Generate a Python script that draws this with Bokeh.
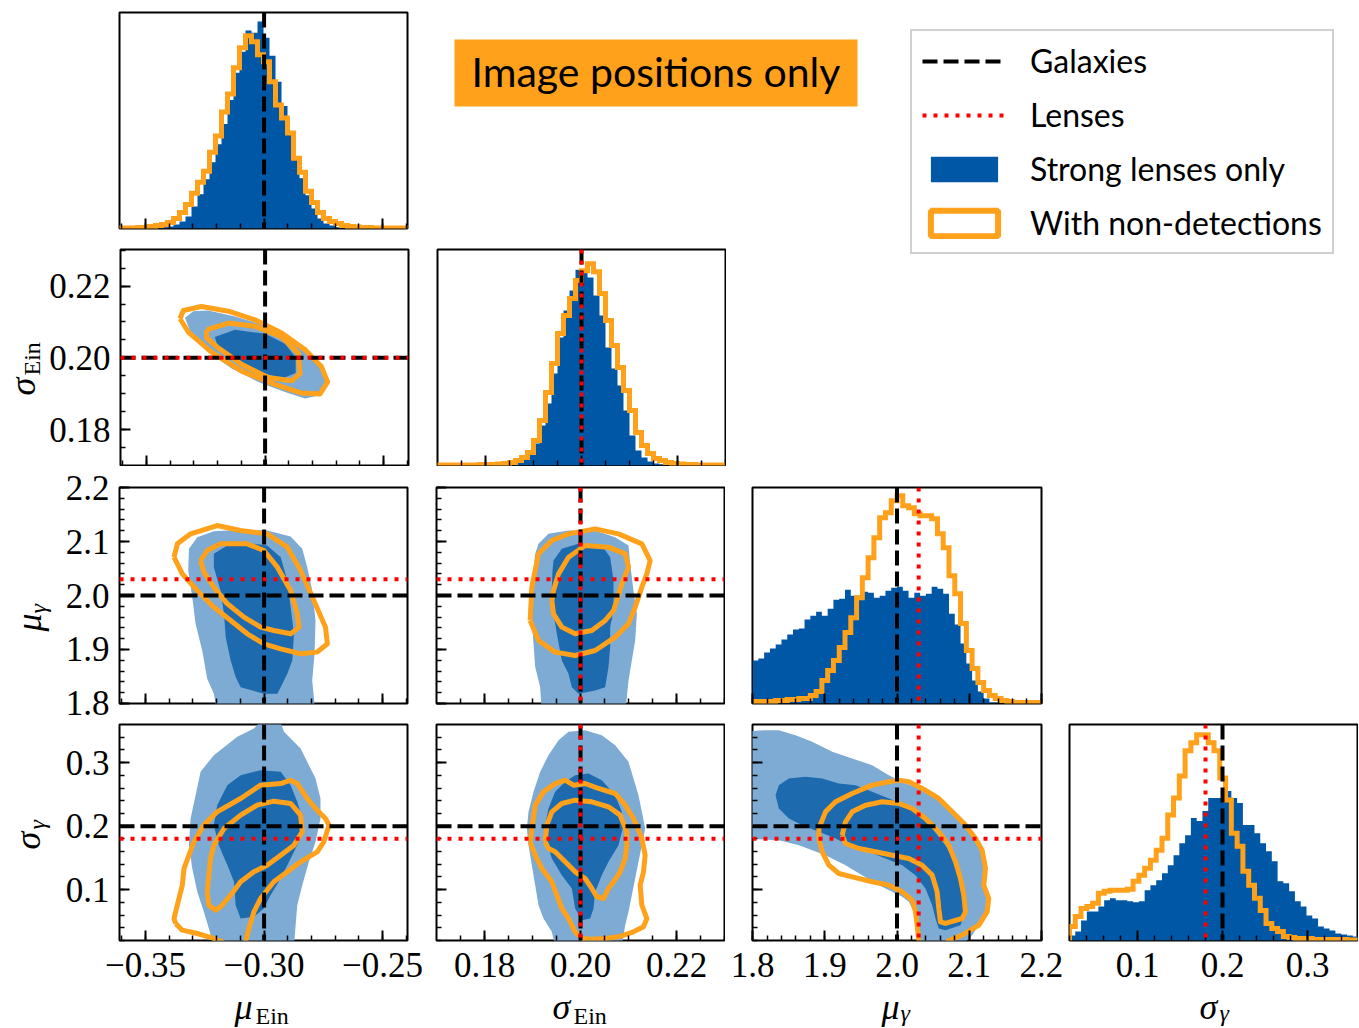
import numpy as np
from bokeh.plotting import figure
from bokeh.models import (Range1d, LinearAxis, SingleIntervalTicker, CustomJSTickFormatter,
                          Span, Label, BoxAnnotation, Legend, LegendItem)
from bokeh.layouts import row, column
from bokeh.embed import file_html
from bokeh.resources import INLINE

# ---------------- data ----------------
param_symbols = [("μ", "Ein"), ("σ", "Ein"), ("μ", "γ"), ("σ", "γ")]
galaxies_truth = [-0.30, 0.20, 2.00, 0.20]
lenses_truth = [None, 0.20, 2.03, 0.18]
x_ranges = [(-0.361, -0.2395), (0.17, 0.23), (1.7999, 2.2001), (0.02, 0.3588)]
y_ranges = [(-0.361, -0.2395), (0.17, 0.2302), (1.7999, 2.2001), (0.02, 0.36)]
tick_interval = [0.05, 0.02, 0.1, 0.1]
minor_ticks = [5, 4, 5, 5]
tick_decimals = [2, 2, 1, 1]

hist_ranges = [(-0.361, -0.2395), (0.17, 0.23), (1.8, 2.2), (0.02, 0.36)]
hist_bins = [48, 48, 50, 50]
hist_headroom = [1.12, 1.07, 1.04, 1.05]

mu_ein_strong = [0, 0, 0, 0, 0, 0, 1, 1, 2, 4, 7, 12, 22, 34, 49, 66, 84, 104, 128, 155, 176, 197,
                 195, 206, 190, 172, 146, 122, 95, 70, 50, 33, 20, 10, 5, 3, 1, 0, 0, 0, 0, 0, 0,
                 0, 0, 0, 0, 0]
mu_ein_nondet = [0.5, 0.5, 0.5, 1, 1, 2, 3, 4, 6, 10, 16, 24, 35, 46, 57, 76, 92, 116, 134, 160,
                 180, 192, 186, 173, 166, 146, 123, 110, 95, 70, 56, 37, 26, 16, 10, 7, 5, 3, 2,
                 1.5, 1, 1, 0.5, 0.5, 0.5, 0.5, 0.5, 0.5]
sig_ein_strong = [0, 0, 0, 0, 0, 0, 0, 0, 0, 0.5, 1, 1, 2, 3, 6, 12, 22, 40, 62, 92, 128, 155,
                  175, 196, 195, 188, 170, 150, 118, 97, 80, 55, 30, 15, 8, 4, 2, 1, 0, 0, 0, 0,
                  0, 0, 0, 0, 0, 0]
sig_ein_nondet = [0.5, 0.5, 0.5, 0.5, 0.5, 0.5, 0.5, 1, 1, 1, 1.5, 2, 3, 5, 8, 13, 25, 45, 73,
                  102, 132, 150, 167, 185, 195, 202, 194, 172, 145, 120, 98, 75, 55, 33, 20, 12,
                  7, 5, 3, 2, 1.5, 1, 1, 0.5, 0.5, 0.5, 0.5, 0.5]
mu_gam_strong = [43, 45, 51, 55, 59, 64, 69, 74, 75, 84, 88, 92, 88, 95, 104, 105, 114, 108, 108,
                 112, 111, 106, 108, 113, 116, 117, 113, 106, 111, 108, 110, 117, 115, 110, 90,
                 79, 60, 40, 23, 12, 5, 1, 0, 0, 0, 0, 0, 0, 0, 0]
mu_gam_nondet = [2, 2, 2, 2, 3, 3, 4, 4, 5, 5, 8, 12, 23, 33, 43, 56, 71, 86, 106, 126, 146, 166,
                 186, 191, 203, 208, 198, 196, 190, 188, 188, 185, 170, 156, 128, 110, 80, 53, 35,
                 21, 13, 8, 5, 3, 2, 1, 1, 1, 1, 1]
sig_gam_strong = [5, 9, 20, 29, 29, 34, 40, 42, 40, 40, 39, 38, 39, 50, 55, 60, 67, 75, 85, 97,
                  105, 122, 119, 129, 142, 142, 142, 149, 142, 137, 115, 115, 107, 97, 89, 79, 59,
                  57, 49, 39, 34, 25, 22, 14, 12, 10, 7, 6, 5, 4]
sig_gam_nondet = [14, 24, 32, 34, 37, 47, 49, 50, 50, 50, 51, 59, 65, 72, 80, 90, 102, 125, 142,
                  164, 189, 197, 205, 205, 197, 189, 162, 140, 107, 94, 69, 55, 42, 30, 17, 12, 9,
                  4, 3, 2, 2, 2, 1, 1, 1, 1, 1, 1, 0.5, 0.5]
hist_strong = [mu_ein_strong, sig_ein_strong, mu_gam_strong, sig_gam_strong]
hist_nondet = [mu_ein_nondet, sig_ein_nondet, mu_gam_nondet, sig_gam_nondet]

# 2D contours (x, y) -- strong lenses (filled: 2 levels), with non-detections (lines: 2 levels)
mein_sein_outer = [(-0.3338, 0.2112), (-0.3303, 0.2130), (-0.3240, 0.2132), (-0.3127, 0.2115), (-0.3000, 0.2090), (-0.2902, 0.2053), (-0.2818, 0.2012), (-0.2762, 0.1970), (-0.2741, 0.1933), (-0.2769, 0.1896), (-0.2832, 0.1887), (-0.2916, 0.1905), (-0.3029, 0.1933), (-0.3141, 0.1970), (-0.3240, 0.2016), (-0.3310, 0.2062)]
mein_sein_inner = [(-0.3212, 0.2058), (-0.3127, 0.2078), (-0.3000, 0.2067), (-0.2916, 0.2039), (-0.2871, 0.2002), (-0.2871, 0.1958), (-0.2930, 0.1942), (-0.3029, 0.1963), (-0.3127, 0.1998), (-0.3198, 0.2028)]
mein_sein_nd_outer = [(-0.3359, 0.2109), (-0.3345, 0.2132), (-0.3268, 0.2143), (-0.3155, 0.2130), (-0.3043, 0.2106), (-0.2930, 0.2069), (-0.2832, 0.2023), (-0.2762, 0.1975), (-0.2736, 0.1933), (-0.2769, 0.1899), (-0.2846, 0.1902), (-0.2959, 0.1926), (-0.3099, 0.1963), (-0.3226, 0.2016), (-0.3324, 0.2072)]
mein_sein_nd_inner = [(-0.3247, 0.2078), (-0.3155, 0.2097), (-0.3043, 0.2088), (-0.2930, 0.2058), (-0.2860, 0.2013), (-0.2853, 0.1956), (-0.2888, 0.1936), (-0.2987, 0.1945), (-0.3099, 0.1982), (-0.3198, 0.2028), (-0.3247, 0.2056)]

mein_mgam_outer = [(-0.3317, 2.0864), (-0.3282, 2.1080), (-0.3212, 2.1191), (-0.3099, 2.1216), (-0.2987, 2.1204), (-0.2888, 2.1093), (-0.2839, 2.0864), (-0.2818, 2.0525), (-0.2797, 2.0093), (-0.2783, 1.9537), (-0.2787, 1.8920), (-0.2797, 1.8426), (-0.2783, 1.78), (-0.3198, 1.78), (-0.3212, 1.8179), (-0.3240, 1.8457), (-0.3261, 1.8981), (-0.3289, 1.9475), (-0.3303, 1.9969), (-0.3320, 2.0463)]
mein_mgam_inner = [(-0.3212, 2.0772), (-0.3155, 2.0926), (-0.3043, 2.0957), (-0.2987, 2.0926), (-0.2930, 2.0710), (-0.2902, 2.0278), (-0.2888, 1.9784), (-0.2874, 1.9290), (-0.2881, 1.8796), (-0.2902, 1.8549), (-0.2930, 1.8302), (-0.2944, 1.8179), (-0.3001, 1.8179), (-0.3099, 1.8302), (-0.3120, 1.8488), (-0.3141, 1.8796), (-0.3162, 1.9228), (-0.3169, 1.9660), (-0.3184, 2.0093), (-0.3212, 2.0525)]
mein_mgam_nd_outer = [(-0.3380, 2.0710), (-0.3366, 2.0957), (-0.3310, 2.1142), (-0.3198, 2.1296), (-0.3099, 2.1204), (-0.2987, 2.1142), (-0.2902, 2.0895), (-0.2846, 2.0463), (-0.2790, 1.9907), (-0.2741, 1.9414), (-0.2733, 1.9105), (-0.2776, 1.8951), (-0.2846, 1.8920), (-0.2930, 1.9012), (-0.3001, 1.9105), (-0.3071, 1.9290), (-0.3141, 1.9537), (-0.3212, 1.9784), (-0.3282, 2.0093), (-0.3345, 2.0401)]
mein_mgam_nd_inner = [(-0.3268, 2.0648), (-0.3240, 2.0833), (-0.3184, 2.0957), (-0.3071, 2.0957), (-0.3001, 2.0833), (-0.2944, 2.0525), (-0.2888, 2.0093), (-0.2860, 1.9660), (-0.2853, 1.9414), (-0.2888, 1.9290), (-0.2959, 1.9352), (-0.3015, 1.9414), (-0.3085, 1.9599), (-0.3155, 1.9846), (-0.3212, 2.0154), (-0.3254, 2.0432)]

sein_mgam_outer = [(0.19125, 2.0957), (0.19333, 2.1142), (0.19750, 2.1204), (0.20306, 2.1204), (0.20722, 2.1080), (0.21000, 2.0926), (0.21035, 2.0586), (0.21104, 2.0093), (0.21174, 1.9660), (0.21139, 1.9167), (0.21069, 1.8796), (0.21000, 1.8426), (0.20931, 1.78), (0.19194, 1.78), (0.19160, 1.8302), (0.19056, 1.8673), (0.19021, 1.9105), (0.18986, 1.9537), (0.19021, 2.0031), (0.19021, 2.0463), (0.19056, 2.0772)]
sein_mgam_inner = [(0.19438, 2.0648), (0.19611, 2.0864), (0.19958, 2.0957), (0.20444, 2.0926), (0.20618, 2.0710), (0.20688, 2.0278), (0.20688, 1.9722), (0.20618, 1.9414), (0.20618, 1.9043), (0.20583, 1.8673), (0.20514, 1.8302), (0.20306, 1.8241), (0.19958, 1.8179), (0.19819, 1.8302), (0.19750, 1.8549), (0.19611, 1.8796), (0.19507, 1.9290), (0.19438, 1.9660), (0.19403, 2.0154), (0.19417, 2.0463)]
sein_mgam_nd_outer = [(0.18951, 1.9537), (0.18986, 2.0154), (0.19125, 2.0772), (0.19403, 2.1019), (0.19750, 2.1142), (0.20306, 2.1235), (0.20792, 2.1142), (0.21278, 2.0957), (0.21451, 2.0648), (0.21382, 2.0401), (0.21278, 2.0154), (0.21139, 1.9784), (0.21000, 1.9475), (0.20722, 1.9228), (0.20306, 1.8981), (0.19889, 1.8889), (0.19472, 1.8951), (0.19125, 1.9167)]
sein_mgam_nd_inner = [(0.19403, 1.9907), (0.19438, 2.0093), (0.19542, 2.0401), (0.19750, 2.0710), (0.20097, 2.0926), (0.20583, 2.0895), (0.20931, 2.0772), (0.21000, 2.0525), (0.20861, 2.0216), (0.20757, 1.9907), (0.20688, 1.9722), (0.20514, 1.9537), (0.20236, 1.9352), (0.19889, 1.9290), (0.19611, 1.9414), (0.19438, 1.9660)]

mein_sgam_outer = [(-0.2959, 0.37), (-0.3001, 0.37), (-0.3043, 0.3537), (-0.3113, 0.3406), (-0.3212, 0.3117), (-0.3268, 0.2855), (-0.3289, 0.2488), (-0.3310, 0.2120), (-0.3317, 0.1701), (-0.3303, 0.1333), (-0.3282, 0.0966), (-0.3254, 0.0651), (-0.3233, 0.0389), (-0.3212, 0.01), (-0.2874, 0.01), (-0.2867, 0.0442), (-0.2860, 0.0756), (-0.2839, 0.1071), (-0.2811, 0.1438), (-0.2783, 0.1753), (-0.2762, 0.2120), (-0.2762, 0.2435), (-0.2783, 0.2750), (-0.2818, 0.3012), (-0.2846, 0.3222), (-0.2888, 0.3380), (-0.2916, 0.3485), (-0.2937, 0.37)]
mein_sgam_inner = [(-0.3198, 0.2330), (-0.3155, 0.2645), (-0.3099, 0.2803), (-0.3015, 0.2881), (-0.2930, 0.2855), (-0.2888, 0.2645), (-0.2860, 0.2383), (-0.2839, 0.2120), (-0.2846, 0.1806), (-0.2874, 0.1596), (-0.2902, 0.1386), (-0.2930, 0.1176), (-0.2973, 0.0914), (-0.3001, 0.0704), (-0.3043, 0.0573), (-0.3099, 0.0546), (-0.3120, 0.0756), (-0.3127, 0.1124), (-0.3155, 0.1386), (-0.3191, 0.1701), (-0.3212, 0.2016)]
mein_sgam_nd_outer = [(-0.3373, 0.0468), (-0.3380, 0.0546), (-0.3366, 0.0756), (-0.3345, 0.1071), (-0.3338, 0.1333), (-0.3317, 0.1543), (-0.3296, 0.1753), (-0.3254, 0.2016), (-0.3198, 0.2225), (-0.3099, 0.2435), (-0.3015, 0.2645), (-0.2930, 0.2671), (-0.2888, 0.2724), (-0.2860, 0.2671), (-0.2818, 0.2435), (-0.2783, 0.2278), (-0.2741, 0.2120), (-0.2726, 0.2016), (-0.2748, 0.1753), (-0.2776, 0.1596), (-0.2846, 0.1438), (-0.2902, 0.1281), (-0.2959, 0.1124), (-0.3015, 0.0861), (-0.3043, 0.0651), (-0.3064, 0.0389), (-0.3078, 0.0179), (-0.3099, 0.0074), (-0.3155, 0.0074), (-0.3177, 0.0179), (-0.3212, 0.0232), (-0.3282, 0.0310), (-0.3345, 0.0363)]
mein_sgam_nd_inner = [(-0.3240, 0.0966), (-0.3233, 0.1229), (-0.3226, 0.1491), (-0.3212, 0.1701), (-0.3169, 0.1963), (-0.3099, 0.2173), (-0.3029, 0.2330), (-0.2959, 0.2393), (-0.2888, 0.2357), (-0.2846, 0.2173), (-0.2839, 0.1911), (-0.2874, 0.1701), (-0.2930, 0.1543), (-0.2987, 0.1386), (-0.3043, 0.1281), (-0.3099, 0.1124), (-0.3141, 0.0914), (-0.3184, 0.0730), (-0.3205, 0.0678), (-0.3233, 0.0756)]

sein_sgam_outer = [(0.19750, 0.3485), (0.20097, 0.3511), (0.20444, 0.3432), (0.20722, 0.3275), (0.21000, 0.3012), (0.21104, 0.2750), (0.21208, 0.2488), (0.21278, 0.2225), (0.21347, 0.1963), (0.21278, 0.1701), (0.21208, 0.1438), (0.21139, 0.1176), (0.21069, 0.0914), (0.21000, 0.0651), (0.20931, 0.0442), (0.20861, 0.01), (0.19472, 0.01), (0.19403, 0.0337), (0.19229, 0.0546), (0.19125, 0.0756), (0.19056, 0.1071), (0.18986, 0.1386), (0.18917, 0.1701), (0.18882, 0.1963), (0.18917, 0.2225), (0.19021, 0.2540), (0.19160, 0.2855), (0.19333, 0.3117), (0.19542, 0.3353)]
sein_sgam_inner = [(0.19472, 0.2540), (0.19681, 0.2698), (0.19889, 0.2803), (0.20167, 0.2829), (0.20444, 0.2724), (0.20722, 0.2488), (0.20861, 0.2225), (0.20896, 0.2016), (0.20792, 0.1701), (0.20583, 0.1438), (0.20444, 0.1229), (0.20306, 0.0966), (0.20271, 0.0704), (0.20201, 0.0546), (0.20028, 0.0520), (0.19889, 0.0704), (0.19819, 0.1019), (0.19611, 0.1229), (0.19403, 0.1491), (0.19299, 0.1753), (0.19264, 0.2016), (0.19333, 0.2278)]
sein_sgam_nd_outer = [(0.18951, 0.1753), (0.18986, 0.1963), (0.19056, 0.2330), (0.19229, 0.2540), (0.19472, 0.2671), (0.19681, 0.2724), (0.19854, 0.2645), (0.20097, 0.2671), (0.20375, 0.2593), (0.20722, 0.2514), (0.20931, 0.2330), (0.21104, 0.2120), (0.21278, 0.1806), (0.21347, 0.1543), (0.21313, 0.1281), (0.21243, 0.1071), (0.21278, 0.0756), (0.21382, 0.0546), (0.21313, 0.0415), (0.21104, 0.0337), (0.20792, 0.0258), (0.20514, 0.0232), (0.20236, 0.0221), (0.20028, 0.0232), (0.19889, 0.0337), (0.19750, 0.0546), (0.19611, 0.0704), (0.19507, 0.0914), (0.19403, 0.1124), (0.19194, 0.1333), (0.19056, 0.1543)]
sein_sgam_nd_inner = [(0.19264, 0.1753), (0.19299, 0.2016), (0.19403, 0.2225), (0.19611, 0.2357), (0.19889, 0.2409), (0.20236, 0.2383), (0.20583, 0.2304), (0.20826, 0.2173), (0.20965, 0.1911), (0.20965, 0.1701), (0.20931, 0.1491), (0.20826, 0.1281), (0.20688, 0.1124), (0.20583, 0.1019), (0.20479, 0.0861), (0.20340, 0.0888), (0.20236, 0.1019), (0.20097, 0.1176), (0.19889, 0.1281), (0.19681, 0.1438), (0.19472, 0.1596), (0.19333, 0.1648)]

mgam_sgam_outer = [(1.78, 0.3485), (1.8180, 0.3511), (1.8364, 0.3511), (1.8595, 0.3432), (1.8826, 0.3327), (1.9103, 0.3170), (1.9379, 0.3065), (1.9656, 0.2960), (1.9887, 0.2803), (2.0118, 0.2671), (2.0348, 0.2593), (2.0579, 0.2435), (2.0764, 0.2278), (2.0948, 0.2068), (2.1087, 0.1858), (2.1179, 0.1596), (2.1225, 0.1333), (2.1202, 0.1071), (2.1271, 0.0861), (2.1248, 0.0651), (2.1133, 0.0442), (2.1040, 0.0284), (2.0902, 0.0127), (2.0348, 0.0127), (2.0302, 0.0337), (2.0256, 0.0494), (2.0233, 0.0651), (2.0164, 0.0809), (2.0072, 0.0888), (1.9933, 0.0966), (1.9749, 0.1071), (1.9518, 0.1229), (1.9287, 0.1386), (1.9010, 0.1543), (1.8826, 0.1622), (1.8641, 0.1701), (1.8364, 0.1779), (1.78, 0.1806)]
mgam_sgam_inner = [(1.8318, 0.2488), (1.8364, 0.2645), (1.8503, 0.2750), (1.8734, 0.2776), (1.8964, 0.2750), (1.9195, 0.2671), (1.9426, 0.2645), (1.9656, 0.2540), (1.9887, 0.2435), (2.0118, 0.2330), (2.0302, 0.2173), (2.0487, 0.1963), (2.0671, 0.1701), (2.0810, 0.1438), (2.0902, 0.1176), (2.0948, 0.0914), (2.0948, 0.0651), (2.0879, 0.0442), (2.0671, 0.0363), (2.0579, 0.0389), (2.0533, 0.0546), (2.0487, 0.0756), (2.0394, 0.1019), (2.0256, 0.1229), (2.0072, 0.1386), (1.9841, 0.1491), (1.9610, 0.1596), (1.9379, 0.1674), (1.9149, 0.1806), (1.8918, 0.1911), (1.8687, 0.2016), (1.8503, 0.2120), (1.8364, 0.2278)]
mgam_sgam_nd_outer = [(1.8918, 0.1806), (1.8918, 0.1963), (1.9010, 0.2225), (1.9149, 0.2383), (1.9379, 0.2514), (1.9656, 0.2645), (1.9887, 0.2698), (2.0025, 0.2724), (2.0164, 0.2698), (2.0348, 0.2593), (2.0579, 0.2435), (2.0764, 0.2225), (2.0948, 0.2016), (2.1087, 0.1806), (2.1179, 0.1622), (2.1225, 0.1333), (2.1202, 0.1071), (2.1271, 0.0861), (2.1248, 0.0651), (2.1133, 0.0442), (2.0902, 0.0284), (2.0717, 0.0200), (2.0625, 0.0074), (2.0325, 0.0074), (2.0302, 0.0200), (2.0279, 0.0442), (2.0256, 0.0651), (2.0210, 0.0835), (2.0072, 0.0966), (1.9887, 0.1071), (1.9656, 0.1124), (1.9379, 0.1202), (1.9195, 0.1255), (1.9057, 0.1386), (1.8964, 0.1596)]
mgam_sgam_nd_inner = [(1.9241, 0.1858), (1.9287, 0.2068), (1.9379, 0.2225), (1.9564, 0.2330), (1.9795, 0.2383), (2.0025, 0.2357), (2.0210, 0.2278), (2.0394, 0.2120), (2.0579, 0.1911), (2.0717, 0.1701), (2.0810, 0.1438), (2.0879, 0.1176), (2.0925, 0.0914), (2.0948, 0.0651), (2.0902, 0.0546), (2.0671, 0.0468), (2.0602, 0.0494), (2.0579, 0.0704), (2.0556, 0.0966), (2.0487, 0.1229), (2.0348, 0.1386), (2.0164, 0.1491), (1.9933, 0.1543), (1.9702, 0.1596), (1.9472, 0.1648), (1.9287, 0.1727)]

contours = {
    (1, 0): (mein_sein_outer, mein_sein_inner, mein_sein_nd_outer, mein_sein_nd_inner),
    (2, 0): (mein_mgam_outer, mein_mgam_inner, mein_mgam_nd_outer, mein_mgam_nd_inner),
    (2, 1): (sein_mgam_outer, sein_mgam_inner, sein_mgam_nd_outer, sein_mgam_nd_inner),
    (3, 0): (mein_sgam_outer, mein_sgam_inner, mein_sgam_nd_outer, mein_sgam_nd_inner),
    (3, 1): (sein_sgam_outer, sein_sgam_inner, sein_sgam_nd_outer, sein_sgam_nd_inner),
    (3, 2): (mgam_sgam_outer, mgam_sgam_inner, mgam_sgam_nd_outer, mgam_sgam_nd_inner),
}

legend_labels = ["Galaxies", "Lenses", "Strong lenses only", "With non-detections"]
title_text = "Image positions only"

# ---------------- style / layout ----------------
BLUE_HIST = "#0057A6"
BLUE_LIGHT = "#7EABD3"
BLUE_DARK = "#1D6AAE"
ORANGE = "#FFA11A"
RED = "#FF0000"
SERIF = "Liberation Serif"
SANS = "Lato"
BASELINE_FIX = 0.3375        # label anchor correction, fraction of font size

FW = [288, 288, 289, 288]
FH = 216
ML = [119, 6, 27, 6]
MR = [23, 1, 22, 1]
MT = [12, 11, 21, 1]
MB = [10, 1, 20, 56]
STRIP_W = {1: 46, 2: 55, 3: 55}
ROW_TOP = [0, 238, 466, 723]
ROW_H = [238, 228, 257, 273]
BOTTOM_STRIP = (996, 1027)


def fmt(d):
    return CustomJSTickFormatter(code="return tick.toFixed(%d).replace('-', '\u2212');" % d)


def style_axis(ax, show_labels, standoff):
    ax.axis_line_color = None
    ax.major_tick_in = 10
    ax.major_tick_out = 0
    ax.minor_tick_in = 5
    ax.minor_tick_out = 0
    ax.major_tick_line_width = 2
    ax.minor_tick_line_width = 1.5
    ax.major_tick_line_color = "black"
    ax.minor_tick_line_color = "black"
    ax.major_label_text_font = SERIF
    if show_labels:
        ax.major_label_text_font_size = "35px"
        ax.major_label_text_color = "black"
        ax.major_label_standoff = standoff
    else:
        ax.major_label_text_font_size = "0px"
        ax.major_label_text_color = None
        ax.major_label_standoff = 0


def make_fig(ri, ci, xr, yr):
    ml = ML[ci] - (STRIP_W[ri] if (ci == 0 and ri in STRIP_W) else 0)
    return figure(frame_width=FW[ci], frame_height=FH,
                  x_range=Range1d(*xr), y_range=Range1d(*yr),
                  min_border_left=ml, min_border_right=MR[ci],
                  min_border_top=MT[ri], min_border_bottom=MB[ri],
                  x_axis_type=None, y_axis_type=None,
                  toolbar_location=None, output_backend="svg",
                  background_fill_color="white", border_fill_color="white",
                  outline_line_color="black", outline_line_width=2)


def add_x_axis(p, i, show):
    ax = LinearAxis(ticker=SingleIntervalTicker(interval=tick_interval[i], num_minor_ticks=minor_ticks[i]),
                    formatter=fmt(tick_decimals[i]))
    style_axis(ax, show, 12)
    p.add_layout(ax, "below")


def add_y_axis(p, i, show):
    ax = LinearAxis(ticker=SingleIntervalTicker(interval=tick_interval[i], num_minor_ticks=minor_ticks[i]),
                    formatter=fmt(tick_decimals[i]))
    style_axis(ax, show, 10)
    p.add_layout(ax, "left")


def add_truth(p, i, dim):
    p.add_layout(Span(location=galaxies_truth[i], dimension=dim, line_color="black",
                      line_dash="15 6", line_width=4))
    if lenses_truth[i] is not None:
        p.add_layout(Span(location=lenses_truth[i], dimension=dim, line_color=RED,
                          line_dash="4 7", line_width=4))


def blank(x0, x1, y0, y1):
    """Empty panel whose data units equal page pixels (y downward)."""
    return figure(frame_width=x1 - x0, frame_height=y1 - y0,
                  x_range=Range1d(x0, x1), y_range=Range1d(y1, y0),
                  min_border=0, x_axis_type=None, y_axis_type=None, toolbar_location=None,
                  output_backend="svg", outline_line_color=None,
                  background_fill_color="white", border_fill_color="white")


def add_text(p, text, X, Y, size, italic, rotated):
    """(X, Y) = wanted baseline-left point in page pixels."""
    fix = BASELINE_FIX * size
    if rotated:
        X, ang = X - fix, np.pi / 2
    else:
        Y, ang = Y - fix, 0.0
    p.add_layout(Label(x=X, y=Y, text=text, angle=ang, text_font=SERIF,
                       text_font_style="italic" if italic else "normal",
                       text_font_size="%dpx" % size, text_align="left",
                       text_baseline="alphabetic", text_color="black"))


figs = {}
for ri in range(4):
    for ci in range(ri + 1):
        if ri == ci:
            lo, hi = hist_ranges[ci]
            edges = np.linspace(lo, hi, hist_bins[ci] + 1)
            strong = np.asarray(hist_strong[ci], dtype=float)
            nondet = np.asarray(hist_nondet[ci], dtype=float)
            p = make_fig(ri, ci, x_ranges[ci], (0, hist_headroom[ci] * nondet.max()))
            xs = np.repeat(edges, 2)[1:-1]
            px = np.concatenate([[edges[0]], xs, [edges[-1]]])
            p.patch(px, np.concatenate([[0], np.repeat(strong, 2), [0]]),
                    fill_color=BLUE_HIST, line_color=None)
            p.line(px, np.concatenate([[0], np.repeat(nondet, 2), [0]]),
                   line_color=ORANGE, line_width=5, line_join="miter")
            add_x_axis(p, ci, show=(ri == 3))
            add_truth(p, ci, "height")
        else:
            p = make_fig(ri, ci, x_ranges[ci], y_ranges[ri])
            outer, inner, nd_outer, nd_inner = contours[(ri, ci)]
            p.patch([v[0] for v in outer], [v[1] for v in outer], fill_color=BLUE_LIGHT, line_color=None)
            p.patch([v[0] for v in inner], [v[1] for v in inner], fill_color=BLUE_DARK, line_color=None)
            for c in (nd_outer, nd_inner):
                p.line([v[0] for v in c] + [c[0][0]], [v[1] for v in c] + [c[0][1]],
                       line_color=ORANGE, line_width=5, line_join="round")
            add_x_axis(p, ci, show=(ri == 3))
            add_y_axis(p, ri, show=(ci == 0))
            add_truth(p, ci, "height")
            add_truth(p, ri, "width")
        figs[(ri, ci)] = p

# left label strips (rotated axis titles): (symbol baseline x, y start), (subscript baseline x, y start)
left_pos = {1: ((35, 384), (40, 364)), 2: ((41, 610), (46, 592)), 3: ((40, 848), (45, 828))}
strips = {}
for ri in (1, 2, 3):
    s = blank(0, STRIP_W[ri], ROW_TOP[ri], ROW_TOP[ri] + ROW_H[ri])
    sym, sub = param_symbols[ri]
    (xa, ya), (xb, yb) = left_pos[ri]
    add_text(s, sym, xa, ya, 36, True, True)
    add_text(s, sub, xb, yb, 24, sub == "γ", True)
    strips[ri] = s

# bottom label strip
bottom = blank(0, 1358, BOTTOM_STRIP[0], BOTTOM_STRIP[1])
bottom_pos = [((234, 1019), (255, 1024)), ((552, 1019), (573, 1024)),
              ((881, 1019), (900, 1021)), ((1199, 1019), (1219, 1021))]
for ci in range(4):
    sym, sub = param_symbols[ci]
    (xa, ya), (xb, yb) = bottom_pos[ci]
    add_text(bottom, sym, xa, ya, 36, True, False)
    add_text(bottom, sub, xb, yb, 24, sub == "γ", False)

# title box
blankA = blank(430, 870, 0, 238)
blankA.add_layout(BoxAnnotation(left=454, right=857, top=27, bottom=94, fill_color=ORANGE,
                                fill_alpha=1.0, line_color=None))
blankA.add_layout(Label(x=655.5, y=59, text=title_text, text_align="center", text_baseline="middle",
                        text_font=SANS, text_font_size="41px", text_color="black"))

# legend panel
blankB = blank(870, 1358, 0, 466)
r_gal = blankB.line(x=[np.nan, np.nan], y=[np.nan, np.nan], line_color="black", line_dash="15 6", line_width=4)
r_len = blankB.line(x=[np.nan, np.nan], y=[np.nan, np.nan], line_color=RED, line_dash="4 7", line_width=4)
r_sl = blankB.quad(left=[np.nan], right=[np.nan], top=[np.nan], bottom=[np.nan],
                   fill_color=BLUE_HIST, line_color=None)
r_nd = blankB.quad(left=[np.nan], right=[np.nan], top=[np.nan], bottom=[np.nan],
                   fill_color=None, line_color=ORANGE, line_width=6)
legend = Legend(items=[LegendItem(label=legend_labels[0], renderers=[r_gal]),
                       LegendItem(label=legend_labels[1], renderers=[r_len]),
                       LegendItem(label=legend_labels[2], renderers=[r_sl]),
                       LegendItem(label=legend_labels[3], renderers=[r_nd])],
                location=(40, 212), glyph_width=84, glyph_height=32, label_height=32,
                spacing=15, padding=10, margin=0, label_standoff=24,
                label_text_font=SANS, label_text_font_size="32px", label_text_color="black",
                border_line_color="#D0D0D0", border_line_width=2, border_line_alpha=1.0,
                background_fill_color="white", background_fill_alpha=1.0)
blankB.add_layout(legend)

top = row(column(row(figs[(0, 0)], blankA), row(strips[1], figs[(1, 0)], figs[(1, 1)])), blankB)
layout = column(top,
                row(strips[2], figs[(2, 0)], figs[(2, 1)], figs[(2, 2)]),
                row(strips[3], figs[(3, 0)], figs[(3, 1)], figs[(3, 2)], figs[(3, 3)]),
                bottom)

open("out.html", "w").write(file_html(layout, INLINE))
